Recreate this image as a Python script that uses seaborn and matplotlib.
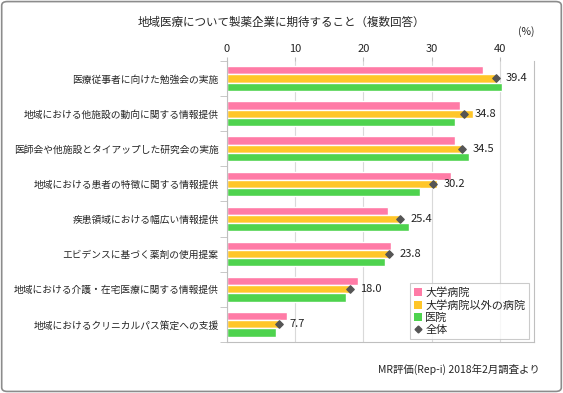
import pandas as pd
import numpy as np
import matplotlib.pyplot as plt
import seaborn as sns
from matplotlib.lines import Line2D
from matplotlib.patches import Patch, FancyBboxPatch

# data
categories = [
    "医療従事者に向けた勉強会の実施",
    "地域における他施設の動向に関する情報提供",
    "医師会や他施設とタイアップした研究会の実施",
    "地域における患者の特徴に関する情報提供",
    "疾患領域における幅広い情報提供",
    "エビデンスに基づく薬剤の使用提案",
    "地域における介護・在宅医療に関する情報提供",
    "地域におけるクリニカルパス策定への支援",
]
univ = [37.5, 34.1, 33.4, 32.8, 23.6, 24.1, 19.2, 8.8]
other_hosp = [39.6, 36.1, 34.6, 30.8, 25.6, 24.1, 18.1, 7.8]
clinic = [40.3, 33.4, 35.5, 28.3, 26.7, 23.2, 17.4, 7.2]
overall = [39.4, 34.8, 34.5, 30.2, 25.4, 23.8, 18.0, 7.7]
series_names = ["大学病院", "大学病院以外の病院", "医院"]
colors = ["#FF7BA6", "#FFC629", "#4ED34E"]

sns.set_style("white")
plt.rcParams["font.family"] = ["Noto Sans CJK JP", "DejaVu Sans"]

df = pd.DataFrame({
    "category": categories * 3,
    "value": univ + other_hosp + clinic,
    "series": np.repeat(series_names, len(categories)),
})

fig = plt.figure(figsize=(5.63, 3.93), dpi=100)
ax = fig.add_axes([0.403, 0.130, 0.5455, 0.715])

sns.barplot(data=df, y="category", x="value", hue="series", order=categories,
            hue_order=series_names, palette=colors, width=0.7, gap=0,
            orient="h", ax=ax, legend=False, saturation=1)

# overall marker sits on the middle bar
pos = np.arange(len(categories))
ax.scatter(overall, pos, marker="D", s=14, color="#555555", zorder=5)
for x, y in zip(overall, pos):
    ax.text(x + 1.5, y, f"{x:.1f}", va="center", ha="left", fontsize=8, color="#222222")

ax.set_xlim(0, 45)
ax.set_ylim(len(categories) - 0.5, -0.5)
ax.set_xticks([0, 10, 20, 30, 40])
ax.xaxis.tick_top()
ax.tick_params(axis="x", top=True, length=3, color="#bfbfbf", pad=2, labelsize=8)
ax.set_yticks(pos)
ax.set_yticklabels(categories, fontsize=7)
ax.set_yticks(np.arange(-0.5, len(categories)), minor=True)
ax.tick_params(axis="y", which="major", length=0, pad=6)
ax.tick_params(axis="y", which="minor", left=True, length=5, color="#bfbfbf")
ax.set_xlabel("")
ax.set_ylabel("")
ax.grid(axis="x", color="#d9d9d9", lw=0.8)
ax.set_axisbelow(True)
for s in ["left", "bottom", "right"]:
    ax.spines[s].set_color("#bfbfbf")
    ax.spines[s].set_linewidth(0.8)
ax.spines["top"].set_visible(False)

ax.text(1.0, 1.085, "(%)", transform=ax.transAxes, ha="right", va="bottom", fontsize=7.5)

handles = [Patch(facecolor=c, edgecolor="none") for c in colors]
handles.append(Line2D([], [], marker="D", linestyle="none", color="#555555", markersize=3.5))
leg = ax.legend(handles, series_names + ["全体"], loc="lower right",
                bbox_to_anchor=(0.985, 0.01), fontsize=8, frameon=True, fancybox=False,
                handlelength=0.7, handleheight=0.7, handletextpad=0.3, labelspacing=0.2,
                borderpad=0.35, borderaxespad=0)
leg.get_frame().set_edgecolor("#bfbfbf")
leg.get_frame().set_linewidth(0.8)

fig.text(0.5, 0.944, "地域医療について製薬企業に期待すること（複数回答）",
         ha="center", va="center", fontsize=8.3)
fig.text(0.959, 0.06, "MR評価(Rep-i) 2018年2月調査より", ha="right", va="center", fontsize=7.5)

fig.patches.append(FancyBboxPatch((0.003, 0.004), 0.994, 0.992,
                                  boxstyle="round,pad=0,rounding_size=0.01",
                                  transform=fig.transFigure, fill=False,
                                  edgecolor="#8c8c8c", lw=1.2))

fig.savefig("out.png", dpi=100)
